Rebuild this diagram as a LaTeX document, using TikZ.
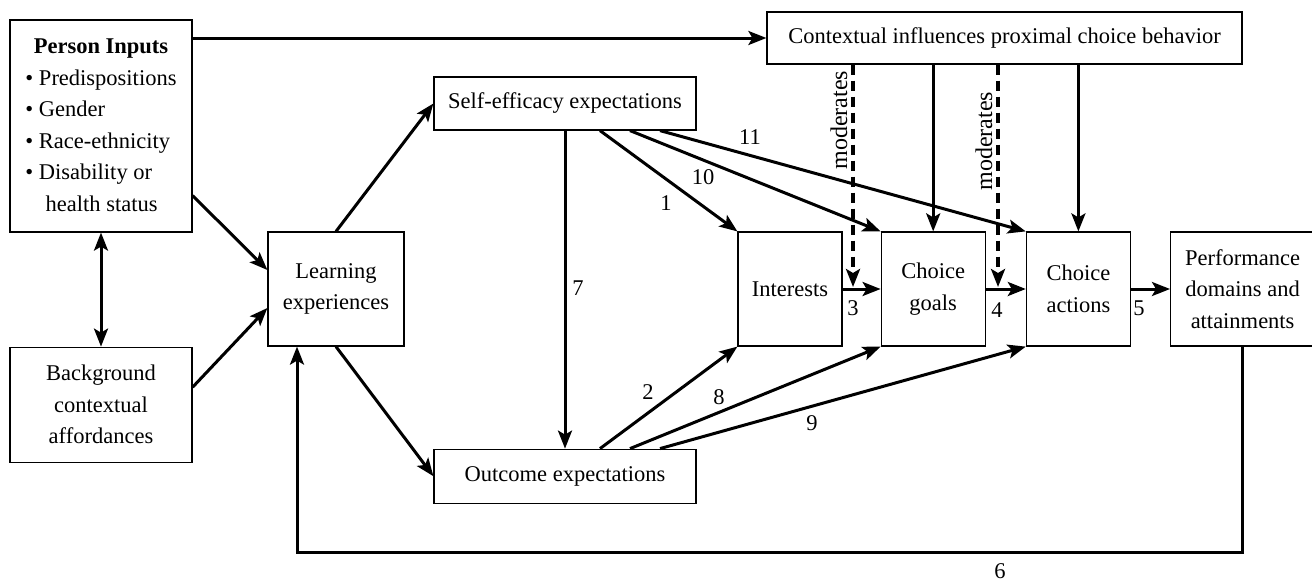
\documentclass[tikz,border=0pt]{standalone}
\usepackage{fontspec}
\setmainfont{Liberation Serif}
\usetikzlibrary{arrows.meta,positioning}

\begin{document}
\begin{tikzpicture}[
    x=1pt, y=-1pt,
    font=\fontsize{22.5}{31.5}\selectfont,
    >={Stealth[length=18pt,width=14pt,inset=4pt]},
    box/.style={rectangle, draw, line width=1.2pt, inner sep=0pt, align=center},
    arrow/.style={->, line width=3pt},
    modarrow/.style={arrow, line width=3.4pt, dash pattern=on 10pt off 6pt},
    num/.style={inner sep=0pt}
]
    \useasboundingbox (0,0) rectangle (1312,582);

    % left column
    \node[box, minimum width=182pt, minimum height=212pt] (person) at (101,126) {%
        \begin{tabular}{@{}l@{}}
            \multicolumn{1}{@{}c@{}}{\textbf{Person Inputs}}\\
            \textbullet\ Predispositions\\
            \textbullet\ Gender\\
            \textbullet\ Race-ethnicity\\
            \textbullet\ Disability or\\
            \hspace*{0.9em}health status
        \end{tabular}};
    \node[box, minimum width=182pt, minimum height=115pt, below=114pt of person] (background) {Background\\contextual\\affordances};
    \node[box, minimum width=136pt, minimum height=114pt] (learning) at (336,289) {Learning\\experiences};

    % expectations
    \node[box, minimum width=262pt, minimum height=53pt] (self) at (565,103.5) {Self-efficacy expectations};
    \node[box, minimum width=262pt, minimum height=54pt, below=318pt of self] (outcome) {Outcome expectations};

    % choice chain
    \node[box, minimum width=104pt, minimum height=114pt] (interests) at (790,289) {Interests};
    \node[box, minimum width=104pt, minimum height=114pt, right=38pt of interests] (goals) {Choice\\goals};
    \node[box, minimum width=104pt, minimum height=114pt, right=40pt of goals] (actions) {Choice\\actions};
    \node[box, minimum width=144pt, minimum height=114pt, right=39pt of actions] (perf) {Performance\\domains and\\attainments};
    \node[box, minimum width=475pt, minimum height=52pt] (context) at (1004.5,38) {Contextual influences proximal choice behavior};

    \draw[arrow] (person.east |- context.west) -- (context.west);
    \draw[arrow] ([yshift=37pt]person.south east) -- ([yshift=19pt]learning.west);
    \draw[arrow] ([yshift=17.5pt]background.east) -- ([yshift=-19pt]learning.west);
    \draw[arrow, <->] (person) -- (background);
    \draw[arrow] (learning.north) -- (self.west);
    \draw[arrow] (learning.south) -- (outcome.west);
    \draw[arrow] (self.south) -- (outcome.north);

    \draw[arrow] ([xshift=35pt]self.south) -- (interests.north west);
    \draw[arrow] ([xshift=65pt]self.south) -- (goals.north west);
    \draw[arrow] ([xshift=95pt]self.south) -- (actions.north west);
    \draw[arrow] ([xshift=35pt]outcome.north) -- (interests.south west);
    \draw[arrow] ([xshift=65pt]outcome.north) -- (goals.south west);
    \draw[arrow] ([xshift=95pt]outcome.north) -- (actions.south west);

    \draw[arrow] (interests) -- (goals);
    \draw[arrow] (goals) -- (actions);
    \draw[arrow] (actions) -- (perf);
    \draw[arrow] (context.south -| goals.north) -- (goals.north);
    \draw[arrow] (context.south -| actions.north) -- (actions.north);

    % moderators
    \coordinate (mod1) at (853,287);
    \coordinate (mod2) at (998,287);
    \draw[modarrow] (context.south -| mod1) -- node[pos=0.25, anchor=south, rotate=90, inner sep=4pt, font=\fontsize{24}{28}\selectfont] {moderates} (mod1);
    \draw[modarrow] (context.south -| mod2) -- node[pos=0.345, anchor=south, rotate=90, inner sep=4pt, font=\fontsize{24}{28}\selectfont] {moderates} (mod2);

    % feedback loop
    \coordinate (fb) at (297,552);
    \draw[arrow] (perf.south) |- (fb) -- (fb |- learning.south);

    % path numbers
    \node[num] (n1) at (666,203) {1};
    \node[num] (n2) at (648,392) {2};
    \node[num] (n3) at (853,308) {3};
    \node[num] (n4) at (997,310) {4};
    \node[num] (n5) at (1139,308) {5};
    \node[num] (n6) at (1000,571) {6};
    \node[num] (n7) at (578,288) {7};
    \node[num] (n8) at (719,397) {8};
    \node[num] (n9) at (812,423) {9};
    \node[num] (n10) at (703,177) {10};
    \node[num] (n11) at (750,137) {11};
\end{tikzpicture}
\end{document}
